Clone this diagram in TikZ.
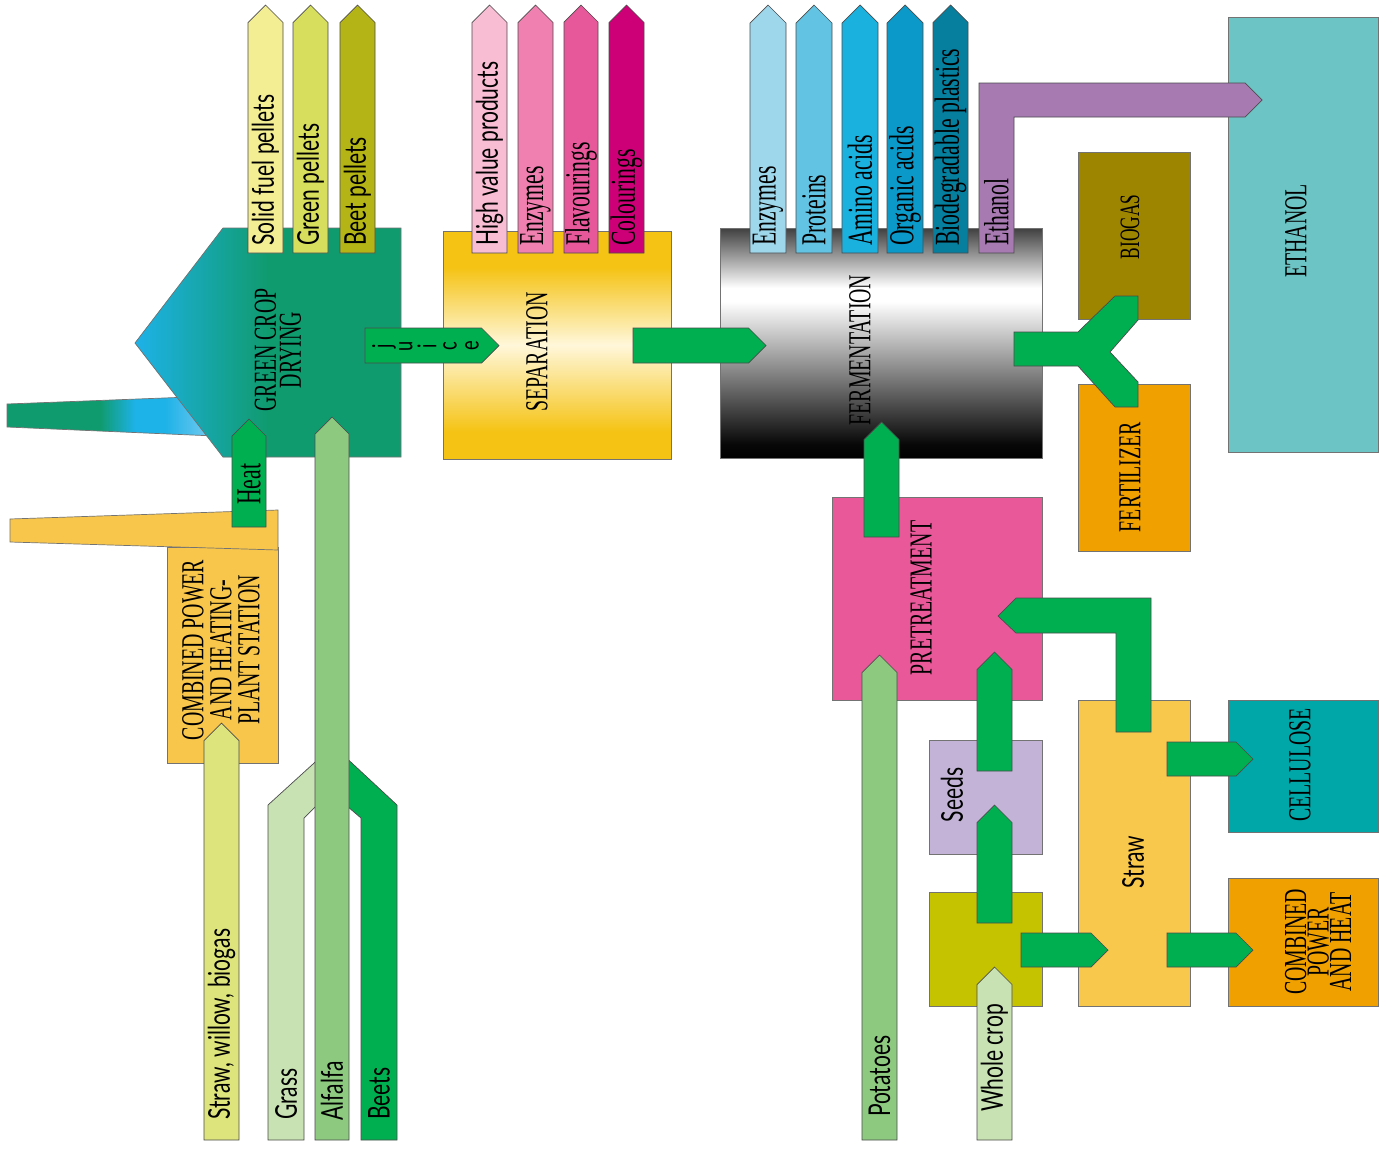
\documentclass[tikz,border=0pt]{standalone}
\usepackage{fontspec}
\setmainfont{Liberation Serif}
\newfontfamily\tmsf[FakeStretch=0.62]{Liberation Serif}
\newfontfamily\optf[FakeStretch=0.70]{Lato}
\definecolor{gArrow}{HTML}{00AF50}
\definecolor{gcd}{HTML}{109B6E}
\definecolor{gcdBlue}{HTML}{1DB2E8}
\definecolor{gcdLight}{HTML}{7CCDF0}
\definecolor{gcdtext}{HTML}{000000}
\definecolor{sepY}{HTML}{F5C314}
\definecolor{sepL}{HTML}{FFF7DA}
\definecolor{prec}{HTML}{E9599A}
\definecolor{bioc}{HTML}{9E8500}
\definecolor{fertc}{HTML}{F0A100}
\definecolor{ethc}{HTML}{6DC4C4}
\definecolor{cellc}{HTML}{00A7A8}
\definecolor{cphc}{HTML}{F0A100}
\definecolor{cphl}{HTML}{F8C64A}
\definecolor{strawc}{HTML}{F8C84C}
\definecolor{seedc}{HTML}{C3B4D7}
\definecolor{wholec}{HTML}{C5C300}
\definecolor{alfc}{HTML}{8DCA80}
\definecolor{grassc}{HTML}{C8E2B3}
\definecolor{swbc}{HTML}{DDE47C}
\definecolor{ethp}{HTML}{A77AB2}
\definecolor{sfpc}{HTML}{F3EE93}
\definecolor{gpc}{HTML}{D7DD5C}
\definecolor{bpc}{HTML}{B4B416}
\definecolor{hvpc}{HTML}{F8BCD3}
\definecolor{enzA}{HTML}{F080AF}
\definecolor{flavc}{HTML}{E7589B}
\definecolor{coloc}{HTML}{CD0077}
\definecolor{enzB}{HTML}{9ED7EB}
\definecolor{protc}{HTML}{62C3E3}
\definecolor{aminoc}{HTML}{1AB1DF}
\definecolor{orgac}{HTML}{0A99C8}
\definecolor{biodc}{HTML}{067E9E}
\pgfdeclareverticalshading{fermsh}{100bp}{color(0bp)=(black); color(25bp)=(black); color(28bp)=(black!97!white); color(59bp)=(white); color(62bp)=(white); color(75bp)=(black!75!white); color(100bp)=(black!75!white)}
\pgfdeclareverticalshading{sepsh}{100bp}{color(0bp)=(sepY); color(25bp)=(sepY); color(31bp)=(sepY); color(50bp)=(sepL); color(67bp)=(sepY); color(75bp)=(sepY); color(100bp)=(sepY)}
\tikzset{
  arr/.style={draw=black!70, line width=0.7pt, line join=miter},
  edge/.style={draw=black!55, line width=0.7pt},
  box/.style={draw=black!55, line width=0.7pt, inner sep=0pt, outer sep=0pt, anchor=north west},
  lbl/.style={rotate=90, inner sep=0pt},
  capsf/.style={font=\tmsf\fontsize{32}{25}\selectfont},
  optl/.style={font=\optf\fontsize{30}{30}\selectfont},
  tmsl/.style={font=\tmsf\fontsize{35}{35}\selectfont}
}
\newcommand{\UpArr}[5]{\filldraw[arr, fill=#1] (#2,#4) -- (#2,{#5+(#3-#2)/2}) -- ({(#2+#3)/2},#5) -- (#3,{#5+(#3-#2)/2}) -- (#3,#4) -- cycle;}
\newcommand{\RtArr}[5]{\filldraw[arr, fill=#1] (#4,#2) -- ({#5-(#3-#2)/2},#2) -- (#5,{(#2+#3)/2}) -- ({#5-(#3-#2)/2},#3) -- (#4,#3) -- cycle;}
\newcommand{\BoxN}[6]{\node[box, fill=#2, minimum width={#5-#3}, minimum height={#6-#4}] (#1) at (#3,#4) {};}
\begin{document}
\begin{tikzpicture}[x=1pt,y=-1pt]
\useasboundingbox (0,0) rectangle (1393,1149);
\fill[white] (0,0) rectangle (1393,1149);

% exhaust band
\begin{scope}
\clip (7,404) -- (190,397) -- (215,436) -- (7,427) -- cycle;
\fill[gcd] (0,390) rectangle (100,440);
\shade[left color=gcd, right color=gcdBlue] (100,390) rectangle (135,440);
\fill[gcdBlue] (135,390) rectangle (165,440);
\shade[left color=gcdBlue, right color=gcdLight] (165,390) rectangle (215,440);
\end{scope}
\draw[edge] (7,404) -- (190,397) -- (215,436) -- (7,427) -- cycle;

% green crop drying
\fill[gcd] (223,228) -- (401,228) -- (401,457) -- (223,457) -- (135,343) -- cycle;
\begin{scope}
\clip (223,228) -- (401,228) -- (401,457) -- (223,457) -- (135,343) -- cycle;
\shade[left color=gcdBlue, right color=gcd] (135,228) rectangle (268,457);
\end{scope}
\draw[edge] (223,228) -- (401,228) -- (401,457) -- (223,457) -- (135,343) -- cycle;
\node[coordinate] (gcdc) at (278,350) {};

% boxes
\node[box, shade, shading=sepsh, minimum width=228, minimum height=228] (sep) at (443,231) {};
\node[box, shade, shading=fermsh, minimum width=322, minimum height=230] (ferm) at (720,228) {};
\BoxN{biogas}{bioc}{1078}{152}{1190}{319}
\BoxN{fert}{fertc}{1078}{384}{1190}{551}
\BoxN{ethanol}{ethc}{1228}{17}{1378}{452}
\BoxN{pretr}{prec}{832}{497}{1042}{700}
\BoxN{seeds}{seedc}{929}{740}{1042}{854}
\BoxN{whole}{wholec}{929}{892}{1042}{1006}
\BoxN{straw}{strawc}{1078}{700}{1190}{1006}
\BoxN{cell}{cellc}{1228}{700}{1378}{832}
\BoxN{cph}{cphc}{1228}{878}{1378}{1006}
\BoxN{cphs}{cphl}{167}{547}{278}{763}
\filldraw[edge, fill=cphl] (10,519) -- (278,510) -- (278,550) -- (10,542) -- cycle;

% product arrows
\UpArr{sfpc}{248}{283}{253}{5}
\UpArr{gpc}{293}{328}{253}{5}
\UpArr{bpc}{340}{375}{253}{5}
\UpArr{hvpc}{472}{507}{253}{5}
\UpArr{enzA}{518}{553}{253}{5}
\UpArr{flavc}{564}{598}{253}{5}
\UpArr{coloc}{609}{644}{253}{5}
\UpArr{enzB}{750}{786}{253}{5}
\UpArr{protc}{796}{832}{253}{5}
\UpArr{aminoc}{842}{878}{253}{5}
\UpArr{orgac}{887}{923}{253}{5}
\UpArr{biodc}{933}{968}{253}{5}
% ethanol pipe
\filldraw[arr, fill=ethp] (979,253) -- (979,83) -- (1245,83) -- (1262,100) -- (1245,117) -- (1014,117) -- (1014,253) -- cycle;

% green flow arrows
\RtArr{gArrow}{328}{363}{365}{499}
\RtArr{gArrow}{328}{363}{633}{766}
\filldraw[arr, fill=gArrow] (1014,332) -- (1078,332) -- (1115,296) -- (1138,296) -- (1138,320) -- (1110,352) -- (1138,382) -- (1138,407) -- (1115,407) -- (1078,366) -- (1014,366) -- cycle;
\UpArr{gArrow}{864}{899}{537}{422}
\filldraw[arr, fill=gArrow] (1151,732) -- (1151,598) -- (1016,598) -- (998,616) -- (1016,633) -- (1116,633) -- (1116,732) -- cycle;
\UpArr{gArrow}{977}{1012}{771}{652}
\UpArr{gArrow}{977}{1012}{923}{805}
\RtArr{gArrow}{933}{967}{1021}{1108}
\RtArr{gArrow}{742}{776}{1167}{1253}
\RtArr{gArrow}{933}{967}{1167}{1253}

% input arrows
\UpArr{gArrow}{232}{266}{527}{419}
\UpArr{swbc}{204}{239}{1140}{723}
\filldraw[arr, fill=grassc] (268,1140) -- (268,805) -- (324,754) -- (324,798) -- (304,818) -- (304,1140) -- cycle;
\filldraw[arr, fill=gArrow] (361,1140) -- (361,818) -- (340,800) -- (340,752) -- (397,805) -- (397,1140) -- cycle;
\UpArr{alfc}{315}{349}{1140}{417}
\UpArr{alfc}{862}{897}{1140}{655}
\UpArr{grassc}{977}{1012}{1140}{967}

% labels in boxes
\node[lbl, capsf, align=center, text=gcdtext] (tgcd) at (gcdc) {GREEN CROP\\DRYING};
\node[lbl, capsf] (tsep) at (537,352) {SEPARATION};
\node[lbl, capsf] (tferm) at (860,350) {FERMENTATION};
\node[lbl, capsf] (tpre) at (921,598) {PRETREATMENT};
\node[lbl, font=\tmsf\fontsize{28}{28}\selectfont] (tbio) at (1130,227) {BIOGAS};
\node[lbl, capsf] (tfert) at (1130,477) {FERTILIZER};
\node[lbl, capsf] (teth) at (1296,231) {ETHANOL};
\node[lbl, capsf] (tcell) at (1300,765) {CELLULOSE};
\node[lbl, font=\tmsf\fontsize{32}{21}\selectfont, align=center] (tcph) at (1318,942) {COMBINED\\POWER\\AND HEAT};
\node[lbl, font=\tmsf\fontsize{32}{28}\selectfont, align=center] (tcphs) at (221,650) {COMBINED POWER\\AND HEATING-\\PLANT STATION};
\node[lbl, optl] (tseeds) at (952,795) {Seeds};
\node[lbl, optl] (tstraw) at (1133,862) {Straw};

% labels in arrows
\node[lbl, anchor=west, optl] (l1) at (265.5,246) {Solid fuel pellets};
\node[lbl, anchor=west, optl] (l2) at (310.5,246) {Green pellets};
\node[lbl, anchor=west, optl] (l3) at (357.5,246) {Beet pellets};
\node[lbl, anchor=west, optl] (l4) at (489.5,246) {High value products};
\node[lbl, anchor=west, tmsl] (l5) at (535.5,246) {Enzymes};
\node[lbl, anchor=west, tmsl] (l6) at (581,246) {Flavourings};
\node[lbl, anchor=west, tmsl] (l7) at (626.5,246) {Colourings};
\node[lbl, anchor=west, tmsl] (l8) at (768,246) {Enzymes};
\node[lbl, anchor=west, tmsl] (l9) at (814,246) {Proteins};
\node[lbl, anchor=west, tmsl] (l10) at (860,246) {Amino acids};
\node[lbl, anchor=west, tmsl] (l11) at (905,246) {Organic acids};
\node[lbl, anchor=west, tmsl] (l12) at (950.5,246) {Biodegradable plastics};
\node[lbl, anchor=west, tmsl] (l13) at (996.5,246) {Ethanol};
\node[lbl, anchor=west, tmsl] (lheat) at (249,505) {Heat};
\node[lbl, anchor=west, optl] (l20) at (221.5,1120) {Straw, willow, biogas};
\node[lbl, anchor=west, optl] (l21) at (286,1120) {Grass};
\node[lbl, anchor=west, optl] (l22) at (332,1121) {Alfalfa};
\node[lbl, anchor=west, optl] (l23) at (379,1120) {Beets};
\node[lbl, anchor=west, optl] (l24) at (879.5,1117) {Potatoes};
\node[lbl, anchor=west, optl] (l25) at (994.5,1112) {Whole crop};
\foreach \ch/\xx in {j/384,u/406,i/427,c/450,e/472}
  \node[lbl, font=\optf\fontsize{26}{26}\selectfont] (juice\ch) at (\xx,346) {\ch};
\end{tikzpicture}
\end{document}
